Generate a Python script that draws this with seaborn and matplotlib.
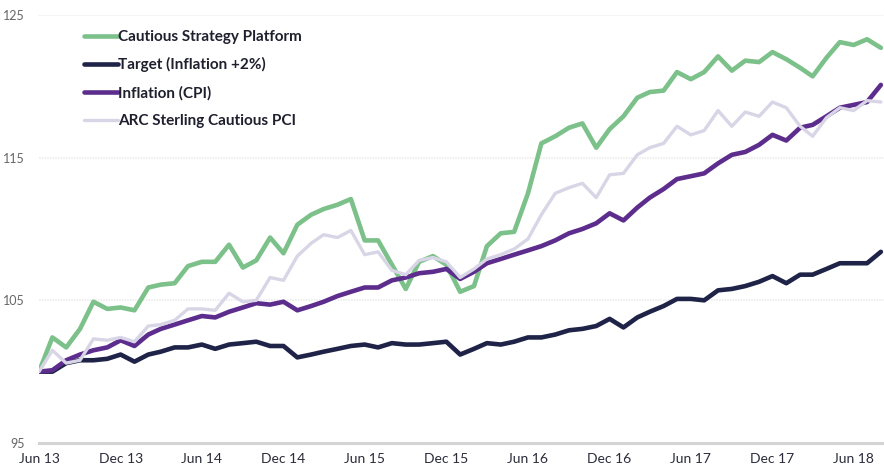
import pandas as pd
import numpy as np
import matplotlib
matplotlib.use('Agg')
import matplotlib.pyplot as plt
import matplotlib.dates as mdates
import seaborn as sns

# monthly index values, Jun 2013 - Aug 2018 (rebased to 100)
months = pd.date_range('2013-06-01', '2018-08-01', freq='MS')

cautious = [100.0, 102.4, 101.7, 103.0, 104.9, 104.4, 104.5, 104.3, 105.9, 106.1,
            106.2, 107.4, 107.7, 107.7, 108.9, 107.3, 107.8, 109.4, 108.3, 110.3,
            111.0, 111.4, 111.7, 112.1, 109.2, 109.2, 107.5, 105.8, 107.7, 108.1,
            107.5, 105.6, 106.0, 108.8, 109.7, 109.8, 112.5, 116.0, 116.5, 117.1,
            117.4, 115.7, 117.0, 117.9, 119.2, 119.6, 119.7, 121.0, 120.5, 121.0,
            122.1, 121.1, 121.8, 121.7, 122.4, 121.9, 121.3, 120.7, 122.0, 123.1,
            122.9, 123.3, 122.7]

target = [100.0, 100.0, 100.6, 100.8, 100.8, 100.9, 101.2, 100.7, 101.2, 101.4,
          101.7, 101.7, 101.9, 101.6, 101.9, 102.0, 102.1, 101.8, 101.8, 101.0,
          101.2, 101.4, 101.6, 101.8, 101.9, 101.7, 102.0, 101.9, 101.9, 102.0,
          102.1, 101.2, 101.6, 102.0, 101.9, 102.1, 102.4, 102.4, 102.6, 102.9,
          103.0, 103.2, 103.7, 103.1, 103.8, 104.2, 104.6, 105.1, 105.1, 105.0,
          105.7, 105.8, 106.0, 106.3, 106.7, 106.2, 106.8, 106.8, 107.2, 107.6,
          107.6, 107.6, 108.4]

cpi = [100.0, 100.1, 100.8, 101.2, 101.5, 101.7, 102.2, 101.8, 102.6, 103.0,
       103.3, 103.6, 103.9, 103.8, 104.2, 104.5, 104.8, 104.7, 104.9, 104.3,
       104.6, 104.9, 105.3, 105.6, 105.9, 105.9, 106.4, 106.6, 106.9, 107.0,
       107.2, 106.5, 107.0, 107.6, 107.9, 108.2, 108.5, 108.8, 109.2, 109.7,
       110.0, 110.4, 111.1, 110.6, 111.5, 112.2, 112.8, 113.5, 113.7, 113.9,
       114.6, 115.2, 115.4, 115.9, 116.6, 116.2, 117.1, 117.3, 117.9, 118.5,
       118.7, 118.9, 120.1]

arc_pci = [100.0, 101.5, 100.6, 100.8, 102.3, 102.2, 102.4, 102.1, 103.2, 103.3,
           103.6, 104.4, 104.4, 104.3, 105.5, 104.9, 105.0, 106.6, 106.4, 108.1,
           109.0, 109.6, 109.4, 109.9, 108.2, 108.4, 107.1, 106.8, 107.8, 108.0,
           107.7, 106.6, 107.2, 107.9, 108.2, 108.6, 109.3, 111.0, 112.5, 112.9,
           113.2, 112.2, 113.8, 113.9, 115.2, 115.7, 116.0, 117.2, 116.6, 116.9,
           118.3, 117.2, 118.2, 117.9, 118.9, 118.5, 117.2, 116.5, 117.8, 118.5,
           118.3, 119.0, 118.9]

series_names = ['Cautious Strategy Platform', 'Target (Inflation +2%)',
                'Inflation (CPI)', 'ARC Sterling Cautious PCI']
series_values = [cautious, target, cpi, arc_pci]
colors = ['#7cc08a', '#1f2347', '#5c2d8c', '#d8d5e6']
widths = [3.3, 3.3, 3.3, 2.4]
y_ticks = [95, 105, 115, 125]

df = pd.DataFrame({'date': months})
for name, vals in zip(series_names, series_values):
    df[name] = vals

sns.set_style('white')
plt.rcParams['font.family'] = ['Lato', 'DejaVu Sans']

fig = plt.figure(figsize=(8.84, 4.70), dpi=100)
ax = fig.add_axes([39 / 884, 27 / 470, 845 / 884, 428 / 470])

for name, col, lw in zip(series_names, colors, widths):
    sns.lineplot(data=df, x='date', y=name, color=col, linewidth=lw,
                 label=name, ax=ax, solid_joinstyle='round', solid_capstyle='round')

ax.set_ylim(95, 125)
ax.set_xlim(pd.Timestamp('2013-06-01'), pd.Timestamp('2018-08-08'))
ax.set_yticks(y_ticks)
ax.yaxis.grid(True, color='#ececec', linestyle=(0, (1, 0.6)), linewidth=1.2)
ax.set_axisbelow(True)

ax.xaxis.set_major_locator(mdates.MonthLocator(bymonth=[6, 12]))
ax.xaxis.set_major_formatter(mdates.DateFormatter('%b %y'))
ax.tick_params(axis='x', length=4, width=1.5, color='#d4d4d4', labelsize=10,
               labelcolor='#2b2b3a', pad=3)
ax.tick_params(axis='y', length=0, labelsize=9, labelcolor='#666666', pad=10)

for s in ['top', 'right', 'left']:
    ax.spines[s].set_visible(False)
ax.spines['bottom'].set_color('#d4d4d4')
ax.spines['bottom'].set_linewidth(2.2)

ax.set_xlabel('')
ax.set_ylabel('')

leg = ax.legend(loc='upper left', bbox_to_anchor=(45 / 845, 0.965), frameon=False,
                prop={'size': 11, 'weight': 'bold'}, handlelength=2.2,
                handletextpad=0.05, labelspacing=0.88, borderpad=0, borderaxespad=0)
for t in leg.get_texts():
    t.set_color('#1f1f2e')

fig.savefig('out.png', dpi=100)
